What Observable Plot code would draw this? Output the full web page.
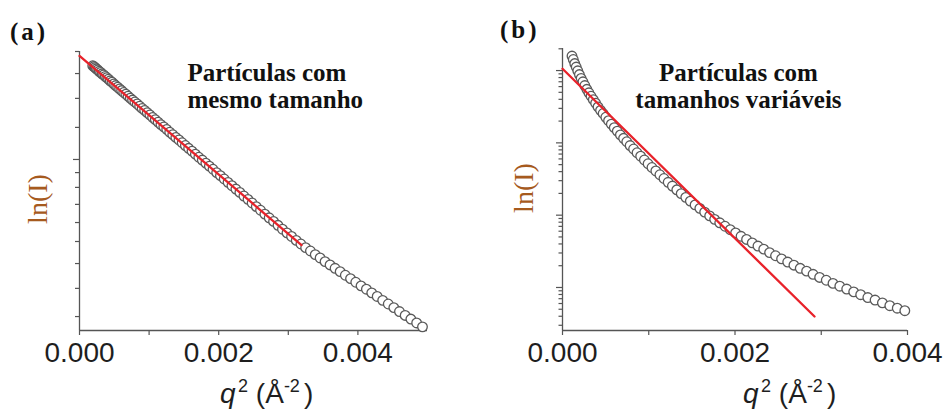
<!DOCTYPE html>
<html><head><meta charset="utf-8">
<script src="https://cdn.jsdelivr.net/npm/d3@7"></script>
<script src="https://cdn.jsdelivr.net/npm/@observablehq/plot@0.6"></script>
<style>
html,body{margin:0;padding:0;background:#fff;}
#wrap{display:flex;width:943px;height:410px;overflow:hidden;}
</style></head><body><div id="wrap"></div>
<script>
// ---------- Panel (a): monodisperse particles ----------
const qA = [0.000190,0.000207,0.000225,0.000243,0.000262,0.000282,0.000303,0.000324,0.000346,0.000369,
0.000392,0.000416,0.000441,0.000467,0.000493,0.000520,0.000548,0.000576,0.000605,0.000635,
0.000666,0.000697,0.000729,0.000762,0.000795,0.000829,0.000864,0.000900,0.000936,0.000973,
0.001011,0.001050,0.001089,0.001129,0.001170,0.001211,0.001253,0.001296,0.001340,0.001384,
0.001429,0.001475,0.001521,0.001568,0.001616,0.001665,0.001714,0.001764,0.001815,0.001866,
0.001918,0.001971,0.002025,0.002079,0.002134,0.002190,0.002247,0.002304,0.002362,0.002421,
0.002480,0.002540,0.002601,0.002663,0.002725,0.002788,0.002852,0.002916,0.002981,0.003047,
0.003114,0.003181,0.003249,0.003318,0.003387,0.003457,0.003528,0.003600,0.003672,0.003745,
0.003819,0.003894,0.003969,0.004045,0.004122,0.004199,0.004277,0.004356,0.004436,0.004516,
0.004597,0.004679,0.004761,0.004844,0.004928];
const lnIA = [9.49,9.46,9.42,9.38,9.34,9.29,9.25,9.20,9.16,9.11,
9.06,9.01,8.95,8.90,8.84,8.78,8.72,8.66,8.60,8.53,
8.47,8.40,8.33,8.26,8.19,8.12,8.04,7.96,7.89,7.81,
7.73,7.64,7.56,7.47,7.38,7.30,7.21,7.11,7.02,6.92,
6.83,6.73,6.63,6.53,6.43,6.32,6.21,6.11,6.00,5.89,
5.78,5.66,5.55,5.43,5.31,5.19,5.07,4.95,4.82,4.70,
4.57,4.44,4.31,4.17,4.04,3.91,3.77,3.63,3.50,3.37,
3.23,3.10,2.97,2.85,2.72,2.60,2.47,2.35,2.23,2.11,
1.98,1.86,1.73,1.60,1.48,1.35,1.22,1.08,0.95,0.82,
0.68,0.54,0.41,0.27,0.13];
const fitQA = [0, 0.00319];
const fitLnA = [9.84, 3.06];
const xDomainA = [0, 0.005];
const yDomainA = [0, 10];
const xTicksA = [0, 0.001, 0.002, 0.003, 0.004];
const xTickLabelsA = ["0.000", "", "0.002", "", "0.004"];
const yMinorA = [10.0, 9.21, 8.32, 7.28, 5.66, 5.13, 4.52, 3.87, 3.19, 2.40, 1.51, 0.50];
const yMajorA = [6.13];
const noteA = ["Partículas com", "mesmo tamanho"];
const noteQA = [0.00155, 0.00155];
const noteLnA = [8.96, 7.96];

// ---------- Panel (b): polydisperse particles ----------
const qB = [0.000110,0.000125,0.000142,0.000159,0.000177,0.000196,0.000216,0.000237,0.000259,0.000282,
0.000306,0.000331,0.000357,0.000384,0.000412,0.000441,0.000471,0.000502,0.000534,0.000566,
0.000600,0.000635,0.000671,0.000708,0.000745,0.000784,0.000824,0.000864,0.000906,0.000949,
0.000992,0.001037,0.001082,0.001129,0.001176,0.001225,0.001274,0.001325,0.001376,0.001429,
0.001482,0.001537,0.001592,0.001648,0.001706,0.001764,0.001823,0.001884,0.001945,0.002007,
0.002070,0.002134,0.002200,0.002266,0.002333,0.002401,0.002470,0.002540,0.002611,0.002683,
0.002756,0.002830,0.002905,0.002981,0.003058,0.003136,0.003215,0.003295,0.003376,0.003457,
0.003540,0.003624,0.003709,0.003795,0.003881,0.003969];
const lnIB = [7.37,7.26,7.13,7.02,6.90,6.78,6.66,6.55,6.43,6.31,
6.20,6.09,5.98,5.87,5.75,5.64,5.54,5.42,5.31,5.20,
5.09,4.98,4.86,4.75,4.64,4.52,4.41,4.29,4.18,4.06,
3.94,3.82,3.71,3.59,3.47,3.35,3.23,3.11,2.99,2.87,
2.75,2.63,2.52,2.40,2.28,2.17,2.06,1.95,1.84,1.74,
1.63,1.53,1.42,1.32,1.22,1.11,1.01,0.91,0.81,0.71,
0.61,0.52,0.42,0.32,0.23,0.13,0.04,-0.05,-0.14,-0.23,
-0.32,-0.40,-0.49,-0.58,-0.66,-0.74];
const fitQB = [0, 0.002922];
const fitLnB = [6.965, -0.924];
const xDomainB = [0, 0.004];
const yDomainB = [-1.37, 7.61];
const xTicksB = [0, 0.001, 0.002, 0.003, 0.004];
const xTickLabelsB = ["0.000", "", "0.002", "", "0.004"];
const yMinorIB = [0.3,0.4,0.5,0.6,0.7,0.8,0.9,2,3,4,5,6,7,8,9,20,30,40,50,60,70,80,90,200,300,400,500,600,700,800,900,2000];
const yMajorIB = [1, 10, 100, 1000];
const noteB = ["Partículas com", "tamanhos variáveis"];
const noteQB = [0.00204, 0.00204];
const noteLnB = [6.59, 5.70];

const AXIS = "#555555";
const TXT = "#1e1e1e";

function panel(cfg) {
  const pts = cfg.q.map((q, i) => ({q, lnI: cfg.lnI[i]}));
  const fit = cfg.fitQ.map((q, i) => ({q, lnI: cfg.fitLn[i]}));
  const notes = cfg.notes.map((t, i) => ({t, q: cfg.noteQ[i], lnI: cfg.noteLn[i]}));
  const labelMap = new Map(cfg.xTicks.map((d, i) => [d, cfg.xTickLabels[i]]));
  const chart = Plot.plot({
    width: cfg.width, height: 410,
    marginLeft: cfg.ml, marginRight: cfg.mr, marginTop: cfg.mt, marginBottom: 80,
    x: {domain: cfg.xDomain},
    y: {domain: cfg.yDomain},
    style: {fontFamily: "'Liberation Sans', Arial, sans-serif", background: "white", overflow: "visible"},
    marks: [
      Plot.ruleX([cfg.xDomain[0]], {stroke: AXIS, strokeWidth: 1.3}),
      Plot.ruleY([cfg.yDomain[0]], {stroke: AXIS, strokeWidth: 1.3}),
      Plot.axisX(cfg.xTicks, {anchor: "bottom", tickSize: 5, tickPadding: 7, stroke: AXIS, strokeWidth: 1.2,
        fill: TXT, fontSize: 28, label: null, tickFormat: d => labelMap.get(d) ?? ""}),
      Plot.axisY(cfg.yMinor, {anchor: "left", tickSize: cfg.minorSize, stroke: AXIS, strokeWidth: 1.2, label: null, tickFormat: () => ""}),
      Plot.axisY(cfg.yMajor, {anchor: "left", tickSize: 6, stroke: AXIS, strokeWidth: 1.2, label: null, tickFormat: () => ""}),
      Plot.dot(pts, {x: "q", y: "lnI", r: 4.8, fill: "white", stroke: "#5a5a5a", strokeWidth: 1.3}),
      Plot.line(fit, {x: "q", y: "lnI", stroke: "#e8222a", strokeWidth: 2.3}),
      Plot.text(notes, {x: "q", y: "lnI", text: "t", textAnchor: cfg.noteAnchor, lineAnchor: "bottom",
        fontFamily: "'Liberation Serif', 'Times New Roman', serif", fontWeight: "bold", fontSize: 25, fill: "#111"})
    ]
  });
  const svg = d3.select(chart);
  // panel letter
  svg.append("text").attr("x", cfg.letterX).attr("y", cfg.letterY).attr("text-anchor", "start")
    .attr("font-family", "'Liberation Serif', serif").attr("font-weight", "bold")
    .attr("font-size", 25).attr("letter-spacing", 3).attr("fill", "#111").text(cfg.letter);
  // y title
  svg.append("text").attr("transform", `translate(${cfg.ylabX},${cfg.ylabY}) rotate(-90)`)
    .attr("text-anchor", "middle").attr("font-family", "'Liberation Serif', serif")
    .attr("font-size", 28).attr("fill", "#a65a1e").text("ln(I)");
  // x title with superscripts
  const t = svg.append("text").attr("x", cfg.xlabX).attr("y", 403).attr("text-anchor", "start")
    .attr("font-family", "'Liberation Sans', Arial, sans-serif").attr("font-size", 28).attr("fill", TXT);
  t.append("tspan").attr("font-style", "italic").text("q");
  t.append("tspan").attr("font-size", 18).attr("dx", 2.5).attr("dy", -11).text("2");
  t.append("tspan").attr("dy", 11).text(" (Å");
  t.append("tspan").attr("font-size", 18).attr("dy", -11).text("-2");
  t.append("tspan").attr("dx", 4).attr("dy", 11).text(")");
  return chart;
}

const wrap = document.getElementById("wrap");
wrap.append(panel({
  width: 470, ml: 79, mr: 43, mt: 51, minorSize: 4,
  q: qA, lnI: lnIA, fitQ: fitQA, fitLn: fitLnA,
  xDomain: xDomainA, yDomain: yDomainA, xTicks: xTicksA, xTickLabels: xTickLabelsA,
  yMinor: yMinorA, yMajor: yMajorA,
  notes: noteA, noteQ: noteQA, noteLn: noteLnA, noteAnchor: "start",
  letter: "(a)", letterX: 10, letterY: 40, ylabX: 47, ylabY: 199, xlabX: 220
}));
wrap.append(panel({
  width: 473, ml: 92, mr: 36, mt: 48, minorSize: 3.5,
  q: qB, lnI: lnIB, fitQ: fitQB, fitLn: fitLnB,
  xDomain: xDomainB, yDomain: yDomainB, xTicks: xTicksB, xTickLabels: xTickLabelsB,
  yMinor: yMinorIB.map(Math.log), yMajor: yMajorIB.map(Math.log),
  notes: noteB, noteQ: noteQB, noteLn: noteLnB, noteAnchor: "middle",
  letter: "(b)", letterX: 30, letterY: 38, ylabX: 63, ylabY: 188, xlabX: 273
}));
</script></body></html>
